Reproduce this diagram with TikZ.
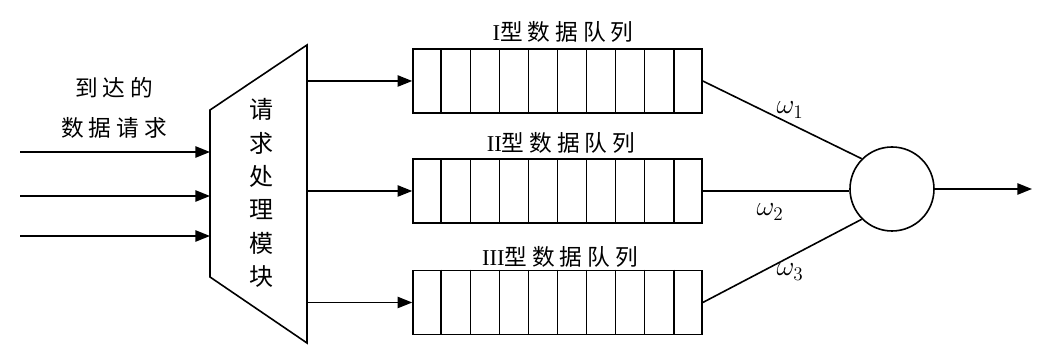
\documentclass[tikz,border=0pt]{standalone}
\usepackage{fontspec}
\usetikzlibrary{arrows.meta,calc}
\newfontfamily\cjk[LetterSpace=22]{Noto Sans CJK SC}
\newfontfamily\romfont{Liberation Serif}
\begin{document}
\begin{tikzpicture}[x=0.75pt,y=-0.75pt,line width=1.2pt,
  >={Triangle[length=11pt,width=8.5pt]},
  queue/.style={draw,minimum width=216.75pt,minimum height=48pt,inner sep=0pt},
  lbl/.style={font=\fontsize{17}{20}\selectfont\cjk,inner sep=0pt},
  wlbl/.style={font=\fontsize{22}{24}\selectfont,inner sep=0pt},
  sumnode/.style={draw,circle,minimum size=63pt,inner sep=0pt}]
\useasboundingbox (0,0) rectangle (1039,348);
% trapezoid module
\coordinate (tl) at (210,110);
\coordinate (tr) at (307,45);
\coordinate (br) at (307,343);
\coordinate (bl) at (210,277);
\draw (tl) -- (tr) -- (br) -- (bl) -- cycle;
\node[font=\fontsize{18}{25}\selectfont\cjk,align=center,inner sep=0pt] (mod) at (261,193) {请\\求\\处\\理\\模\\块};
% input label
\node[font=\fontsize{17}{30}\selectfont\cjk,align=center,inner sep=0pt] (inlbl) at (114,108) {到达的\\数据请求};
% input arrows
\coordinate (a1) at (20,152); \coordinate (b1) at (210,152);
\coordinate (a2) at (20,196); \coordinate (b2) at (210,196);
\coordinate (a3) at (20,236); \coordinate (b3) at (210,236);
\draw[->] (a1) -- (b1);
\draw[->] (a2) -- (b2);
\draw[->] (a3) -- (b3);
% queues
\node[queue] (q1) at (557.5,81) {};
\node[queue] (q2) at (557.5,191) {};
\node[queue] (q3) at (557.5,302.5) {};
\foreach \q in {q1,q2,q3}{
  \foreach \i in {1,...,9}{
    \draw ($(\q.north west)!\i/10!(\q.north east)$) -- ($(\q.south west)!\i/10!(\q.south east)$);
  }
}
\node[lbl] (l1) at (563,32) {{\romfont I}型数据队列};
\node[lbl] (l2) at (561,143) {{\romfont II}型数据队列};
\node[lbl] (l3) at (560,257) {{\romfont III}型数据队列};
% module outputs
\coordinate (o1) at (307,81);
\coordinate (o2) at (307,191);
\coordinate (o3) at (307,302.5);
\draw[->] (o1) -- (q1.west);
\draw[->] (o2) -- (q2.west);
\draw[->] (o3) -- (q3.west);
% summing node
\node[sumnode] (c) at (892,189) {};
\draw (q1.east) -- (c.135);
\draw (q2.east) -- (c.west |- q2.east);
\draw (q3.east) -- (c.225);
\coordinate (out) at (1032,189);
\draw[->] (c.east) -- (out);
\node[wlbl] (w1) at (790,110) {$\omega_1$};
\node[wlbl] (w2) at (770,212) {$\omega_2$};
\node[wlbl] (w3) at (790,272) {$\omega_3$};
\end{tikzpicture}
\end{document}
